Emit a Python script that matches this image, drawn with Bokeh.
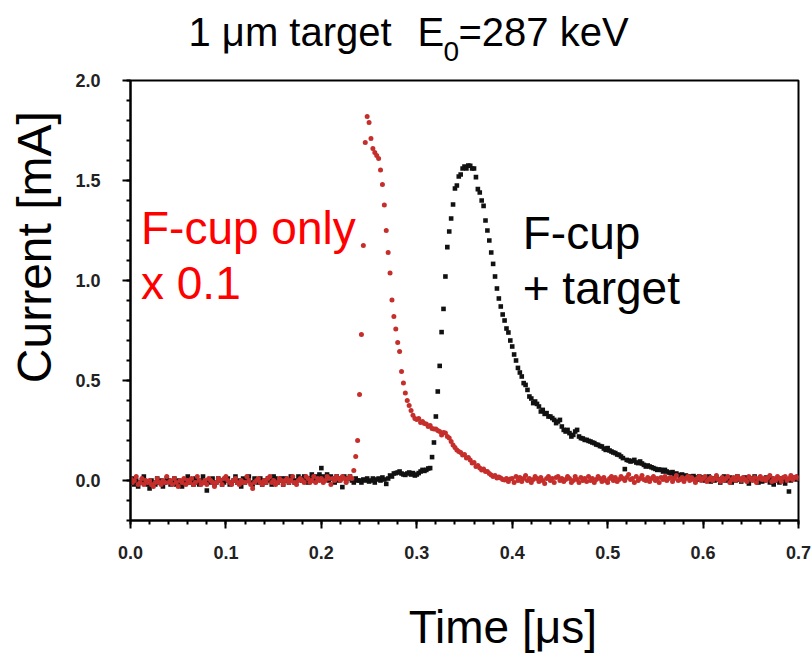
import numpy as np
from bokeh.plotting import figure
from bokeh.layouts import column
from bokeh.core.properties import value
from bokeh.models import (Label, FixedTicker, PrintfTickFormatter,
                          Range1d, ColumnDataSource)
from bokeh.embed import file_html
from bokeh.resources import INLINE

# ---------------- data ----------------
T_START = 0.0      # us
T_STEP = 0.002     # us, sampling interval of the scope trace
N_SAMPLES = 351

# F-cup + target (black squares), current in mA
fcup_target = [
    -0.01, 0.01, -0.02, 0.00, -0.03, -0.01, 0.00, 0.02, -0.01, -0.02,
    -0.04, 0.00, -0.01, -0.02, 0.01, -0.01, 0.00, -0.03, -0.01, 0.01,
    0.00, -0.02, -0.01, 0.01, -0.02, 0.00, -0.01, -0.03, 0.00, -0.01,
    0.02, -0.01, 0.00, -0.02, 0.01, -0.01, -0.02, 0.00, 0.02, -0.01,
    -0.05, 0.00, -0.01, 0.01, -0.02, -0.01, 0.01, 0.00, -0.02, -0.01,
    0.00, 0.01, -0.02, -0.01, 0.00, 0.02, -0.01, 0.00, -0.03, 0.01,
    -0.01, 0.00, 0.02, -0.01, -0.02, 0.01, 0.00, -0.01, 0.01, -0.02,
    0.00, -0.01, 0.01, 0.00, -0.02, 0.02, 0.01, -0.01, 0.00, 0.01,
    -0.02, 0.01, 0.00, -0.01, 0.02, 0.01, -0.01, 0.00, 0.02, 0.01,
    0.00, 0.02, 0.01, -0.01, 0.01, 0.03, 0.00, 0.02, 0.01, 0.03,
    0.062, 0.02, 0.01, 0.03, 0.00, 0.02, 0.01, -0.01, 0.02, 0.00,
    0.01, -0.033, 0.02, 0.00, 0.01, 0.02, 0.00, -0.01, 0.01, 0.00,
    0.00, -0.01, 0.005, 0.00, 0.01, -0.005, 0.00, 0.01, -0.01, 0.005,
    0.01, 0.00, 0.015, 0.005, -0.017, 0.01, 0.025, 0.02, 0.035, 0.037,
    0.04, 0.045, 0.035, 0.03, 0.028, 0.035, 0.04, 0.03, 0.037, 0.025,
    0.03, 0.037, 0.045, 0.053, 0.048, 0.053, 0.06, 0.062, 0.117, 0.19,
    0.32, 0.445, 0.573, 0.742, 0.858, 1.02, 1.167, 1.245, 1.31, 1.38,
    1.46, 1.475, 1.52, 1.53, 1.56, 1.57, 1.56, 1.575, 1.574, 1.56,
    1.56, 1.517, 1.457, 1.44, 1.40, 1.373, 1.30, 1.25, 1.20, 1.14,
    1.083, 1.02, 0.96, 0.91, 0.87, 0.83, 0.80, 0.76, 0.74, 0.70,
    0.67, 0.63, 0.60, 0.563, 0.54, 0.52, 0.487, 0.478, 0.453, 0.42,
    0.41, 0.387, 0.395, 0.383, 0.37, 0.345, 0.353, 0.333, 0.337, 0.32,
    0.32, 0.312, 0.303, 0.287, 0.295, 0.303, 0.27, 0.253, 0.245, 0.253,
    0.237, 0.22, 0.228, 0.245, 0.253, 0.22, 0.212, 0.21, 0.203, 0.203,
    0.198, 0.195, 0.19, 0.187, 0.18, 0.178, 0.172, 0.17, 0.16, 0.153,
    0.162, 0.15, 0.145, 0.14, 0.137, 0.13, 0.128, 0.12, 0.112, 0.057,
    0.103, 0.10, 0.095, 0.098, 0.103, 0.09, 0.087, 0.095, 0.085, 0.078,
    0.07, 0.075, 0.07, 0.066, 0.062, 0.058, 0.053, 0.055, 0.053, 0.045,
    0.053, 0.045, 0.04, 0.037, 0.042, 0.03, 0.035, 0.028, 0.025, 0.03,
    0.02, 0.025, 0.015, 0.02, 0.01, 0.022, 0.015, 0.005, 0.02, 0.01,
    0.015, 0.00, 0.01, 0.02, -0.005, 0.01, 0.00, 0.015, 0.005, -0.01,
    0.01, 0.02, 0.00, 0.005, 0.015, -0.01, 0.01, 0.00, 0.02, 0.005,
    -0.005, 0.01, 0.015, 0.00, -0.015, 0.01, 0.005, 0.02, 0.00, -0.01,
    0.01, -0.005, 0.00, 0.015, 0.005, -0.01, 0.01, -0.02, 0.005, 0.00,
    -0.01, 0.01, 0.00, -0.015, 0.005, -0.055, 0.00, 0.01, 0.015, 0.005,
    0.02,
]

# F-cup only, scaled x 0.1 (red dots), current in mA
fcup_only_x01 = [
    0.01, -0.01, 0.00, 0.02, -0.02, -0.01, 0.01, -0.02, 0.00, -0.01,
    0.00, -0.02, -0.03, -0.01, 0.01, -0.01, -0.02, 0.00, -0.01, 0.02,
    -0.01, 0.00, -0.02, 0.01, -0.01, -0.03, 0.00, -0.01, 0.01, -0.02,
    0.00, -0.01, 0.01, -0.02, -0.01, 0.02, 0.00, -0.02, -0.01, 0.00,
    -0.02, 0.01, 0.00, -0.01, -0.03, -0.01, 0.01, 0.00, -0.02, 0.01,
    0.02, 0.00, -0.01, -0.02, 0.00, 0.01, -0.01, -0.02, 0.00, -0.01,
    -0.01, 0.02, 0.00, -0.02, -0.04, -0.01, 0.00, 0.01, -0.01, -0.02,
    0.00, -0.01, 0.01, 0.02, -0.01, 0.00, -0.02, -0.01, 0.01, 0.00,
    -0.02, 0.00, 0.01, -0.01, 0.00, 0.02, -0.01, -0.02, 0.00, 0.01,
    0.00, -0.01, 0.02, 0.01, -0.01, 0.00, 0.02, -0.01, 0.01, 0.00,
    0.01, -0.01, 0.00, 0.02, 0.01, -0.02, 0.01, 0.00, 0.02, 0.01,
    0.00, 0.02, 0.01, -0.01, 0.01, 0.02, 0.01, 0.05, 0.12, 0.20,
    0.43, 0.73, 1.175, 1.69, 1.82, 1.79, 1.71, 1.66, 1.64, 1.625,
    1.61, 1.553, 1.48, 1.377, 1.25, 1.14, 1.037, 0.903, 0.82, 0.757,
    0.69, 0.645, 0.545, 0.487, 0.437, 0.40, 0.375, 0.35, 0.326, 0.31,
    0.305, 0.31, 0.29, 0.295, 0.285, 0.283, 0.27, 0.275, 0.26, 0.257,
    0.257, 0.25, 0.245, 0.228, 0.24, 0.237, 0.22, 0.212, 0.195, 0.178,
    0.165, 0.153, 0.145, 0.14, 0.128, 0.13, 0.112, 0.115, 0.103, 0.087,
    0.09, 0.07, 0.075, 0.062, 0.053, 0.058, 0.045, 0.045, 0.035, 0.028,
    0.02, 0.025, 0.012, 0.018, 0.012, 0.005, 0.003, 0.01, -0.005, 0.008,
    0.01, -0.01, 0.02, 0.00, 0.015, -0.005, 0.01, 0.025, 0.00, 0.01,
    -0.01, 0.005, 0.02, 0.01, -0.005, 0.015, 0.00, -0.015, 0.01, 0.02,
    0.00, 0.01, -0.01, 0.015, 0.02, 0.00, 0.01, -0.005, 0.005, 0.02,
    0.01, -0.01, 0.00, 0.02, 0.005, -0.01, 0.015, 0.00, 0.01, -0.005,
    0.02, 0.00, 0.01, -0.01, 0.005, 0.02, 0.01, -0.005, 0.015, 0.00,
    -0.01, 0.01, 0.02, 0.00, 0.015, -0.005, 0.005, 0.02, 0.01, 0.00,
    0.015, 0.03, 0.005, 0.01, -0.01, 0.02, 0.00, 0.01, 0.025, 0.005,
    0.00, 0.015, -0.005, 0.01, 0.02, 0.00, 0.01, -0.01, 0.015, 0.005,
    0.02, 0.00, 0.01, 0.015, -0.005, 0.01, 0.025, 0.00, 0.005, 0.015,
    -0.005, 0.01, 0.02, 0.00, 0.015, 0.005, -0.01, 0.01, 0.02, 0.00,
    0.01, 0.02, -0.005, 0.005, 0.015, 0.00, 0.01, 0.025, 0.005, -0.005,
    0.015, 0.00, 0.01, 0.02, -0.01, 0.005, 0.015, 0.00, 0.02, 0.01,
    0.00, 0.015, 0.005, -0.005, 0.02, 0.01, 0.00, 0.015, -0.01, 0.01,
    0.02, 0.005, 0.01, 0.00, 0.015, 0.025, -0.005, 0.01, 0.00, 0.02,
    0.01, -0.005, 0.015, 0.02, 0.00, 0.01, 0.025, 0.005, 0.015, 0.02,
    0.01,
]

time_us = np.round(T_START + T_STEP * np.arange(N_SAMPLES), 4)

x_range = (0.0, 0.7)
y_range = (-0.2, 2.0)
x_ticks = [0.0, 0.1, 0.2, 0.3, 0.4, 0.5, 0.6, 0.7]
y_ticks = [0.0, 0.5, 1.0, 1.5, 2.0]
x_minor_step = 0.02
y_minor_step = 0.1

title_parts = ["1 μm target", "E", "0", "=287 keV"]
x_title = "Time [μs]"
y_title = "Current [mA]"
note_red = ["F-cup only", "x 0.1"]
note_black = ["F-cup", "+ target"]

# ---------------- styling ----------------
FONT = "Liberation Sans"
RED_DOT = "#c62e2b"
RED_TXT = "#ff0000"
NBSP = "\u00a0"
BASELINE_FIX = 0.38   # em; svg text sits this much below the requested baseline

# ---------------- title strip (page-pixel coordinates) ----------------
STRIP_H = 69
tfig = figure(width=812, height=STRIP_H, output_backend="svg", toolbar_location=None,
              x_range=Range1d(130, 798), y_range=Range1d(0, STRIP_H),
              min_border_left=130, min_border_right=14,
              min_border_top=0, min_border_bottom=0)
tfig.axis.visible = False
tfig.grid.visible = False
tfig.outline_line_color = None
tfig.background_fill_color = "white"
tfig.border_fill_color = "white"


def title_piece(txt, left, baseline_page_y, size):
    tfig.text(x=[left], y=[STRIP_H - baseline_page_y + BASELINE_FIX * size],
              text=[txt], text_font=value(FONT), text_font_size=f"{size}px",
              text_color="black", text_baseline="alphabetic", text_align="left")


title_piece(title_parts[0], 188, 47, 40)
title_piece(title_parts[1], 417, 47, 40)
title_piece(title_parts[2], 443, 62, 28)
title_piece(title_parts[3], 458, 47, 40)

# ---------------- main plot ----------------
p = figure(width=812, height=661 - STRIP_H, output_backend="svg", toolbar_location=None,
           x_range=Range1d(*x_range), y_range=Range1d(*y_range),
           min_border_left=130, min_border_right=14,
           min_border_top=80 - STRIP_H, min_border_bottom=141)
p.background_fill_color = "white"
p.border_fill_color = "white"
p.outline_line_color = "black"
p.outline_line_width = 2
p.xgrid.visible = False
p.ygrid.visible = False

for ax in (p.xaxis[0], p.yaxis[0]):
    ax.axis_line_width = 2
    ax.axis_line_color = "black"
    ax.major_tick_line_width = 2
    ax.minor_tick_line_width = 2
    ax.major_tick_line_color = "black"
    ax.minor_tick_line_color = "black"
    ax.major_tick_in = 0
    ax.major_tick_out = 8
    ax.minor_tick_in = 0
    ax.minor_tick_out = 4
    ax.major_label_text_font = FONT
    ax.major_label_text_font_style = "bold"
    ax.major_label_text_font_size = "18px"
    ax.major_label_text_color = "#222222"
    ax.axis_label_text_font = FONT
    ax.axis_label_text_font_style = "normal"
    ax.axis_label_text_color = "black"
    ax.formatter = PrintfTickFormatter(format="%.1f")

x_minor = [round(i * x_minor_step, 3) for i in range(int(round(x_range[1] / x_minor_step)) + 1)]
y_minor = [round(y_range[0] + i * y_minor_step, 3)
           for i in range(int(round((y_range[1] - y_range[0]) / y_minor_step)) + 1)]
p.xaxis[0].ticker = FixedTicker(ticks=x_ticks, minor_ticks=x_minor)
p.yaxis[0].ticker = FixedTicker(ticks=y_ticks, minor_ticks=y_minor)
p.xaxis[0].major_label_standoff = 17
p.yaxis[0].major_label_standoff = 22
# label text padded with no-break spaces to sit off-centre as in the original
p.xaxis[0].axis_label = NBSP * 6 + x_title
p.yaxis[0].axis_label = NBSP * 8 + y_title
p.xaxis[0].axis_label_text_font_size = "46px"
p.yaxis[0].axis_label_text_font_size = "48px"
p.xaxis[0].axis_label_standoff = 39
p.yaxis[0].axis_label_standoff = 11

src = ColumnDataSource(dict(t=time_us, black=fcup_target, red=fcup_only_x01))
p.scatter("t", "black", source=src, marker="square", size=4.6,
          fill_color="#111111", line_color=None)
p.scatter("t", "red", source=src, marker="circle", size=5,
          fill_color=RED_DOT, line_color=None)

# annotations inside the plot
LABEL_SHIFT = 0.085   # data units; compensates the svg baseline offset
for txt, xx, yy, col in [(note_red[0], 0.011, 1.178, RED_TXT),
                         (note_red[1], 0.011, 0.903, RED_TXT),
                         (note_black[0], 0.411, 1.153, "black"),
                         (note_black[1], 0.411, 0.878, "black")]:
    p.add_layout(Label(x=xx, y=yy + LABEL_SHIFT, text=txt, text_color=col,
                       text_font=FONT, text_font_size="46px",
                       text_baseline="alphabetic"))

layout = column(tfig, p, spacing=0)
open("out.html", "w").write(file_html(layout, INLINE))
